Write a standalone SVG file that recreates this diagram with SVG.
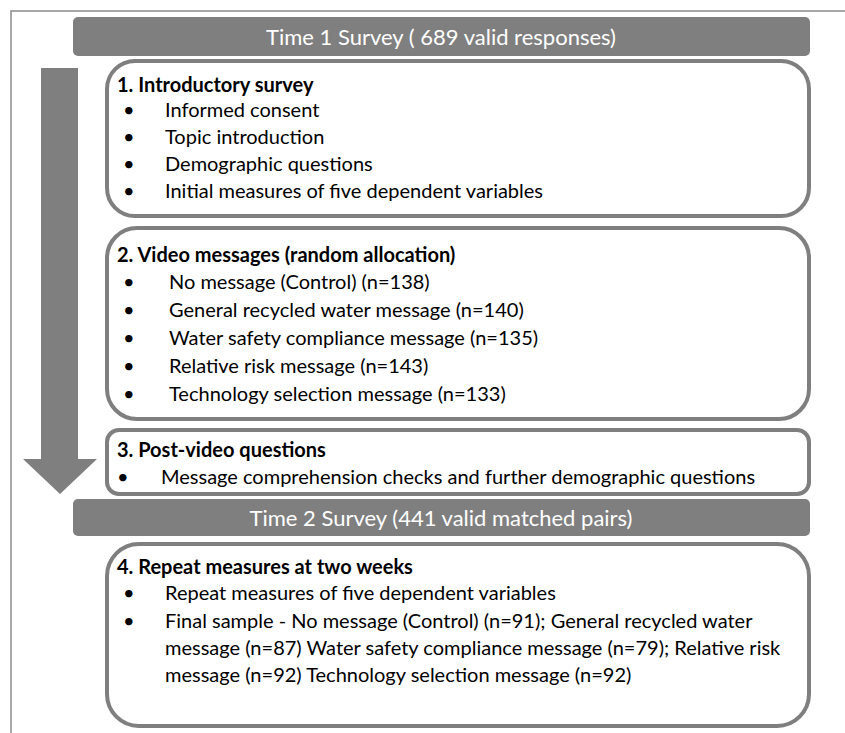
<svg xmlns="http://www.w3.org/2000/svg" width="845" height="733" viewBox="0 0 845 733">
<style>
.frame{stroke:#8a8a8a;stroke-width:1.5;fill:none}
.bar{fill:#7f7f7f}
.box{fill:#fff;stroke:#7f7f7f;stroke-width:4}
.hdr{font-family:Lato,"Liberation Sans",sans-serif;font-size:22px;fill:#fff;text-anchor:middle}
.ttl{font-family:Lato,"Liberation Sans",sans-serif;font-size:20px;font-weight:bold;fill:#000}
.txt{font-family:Lato,"Liberation Sans",sans-serif;font-size:20px;fill:#000}
</style>
<rect width="845" height="733" fill="#fff"/>
<path class="frame" d="M11,733 V11 H845"/>
<g id="flow-arrow">
<polygon class="bar" points="41,68 78,68 78,459 97,459 60,494 23,459 41,459"/>
</g>
<g id="time1-header">
<rect class="bar" x="73" y="17" width="737" height="39" rx="5"/>
<text class="hdr" x="441" y="45">Time 1 Survey ( 689 valid responses)</text>
</g>
<g id="box1">
<rect class="box" x="107" y="61" width="702" height="155" rx="28"/>
<text class="ttl" x="117" y="92">1. Introductory survey</text>
<g class="txt">
<text x="123" y="117">•</text><text x="165" y="117">Informed consent</text>
<text x="123" y="144">•</text><text x="165" y="144">Topic introduction</text>
<text x="123" y="171">•</text><text x="165" y="171">Demographic questions</text>
<text x="123" y="198">•</text><text x="165" y="198">Initial measures of five dependent variables</text>
</g>
</g>
<g id="box2">
<rect class="box" x="107" y="228" width="702" height="191" rx="30"/>
<text class="ttl" x="117" y="262">2. Video messages (random allocation)</text>
<g class="txt">
<text x="123" y="289">•</text><text x="169" y="289">No message (Control) (n=138)</text>
<text x="123" y="317">•</text><text x="169" y="317">General recycled water message (n=140)</text>
<text x="123" y="345">•</text><text x="169" y="345">Water safety compliance message (n=135)</text>
<text x="123" y="373">•</text><text x="169" y="373">Relative risk message (n=143)</text>
<text x="123" y="401">•</text><text x="169" y="401">Technology selection message (n=133)</text>
</g>
</g>
<g id="box3">
<rect class="box" x="107" y="430" width="702" height="64" rx="12"/>
<text class="ttl" x="117" y="457">3. Post-video questions</text>
<g class="txt">
<text x="117" y="484">•</text><text x="161" y="484">Message comprehension checks and further demographic questions</text>
</g>
</g>
<g id="time2-header">
<rect class="bar" x="73" y="499" width="737" height="37" rx="5"/>
<text class="hdr" x="441" y="526">Time 2 Survey (441 valid matched pairs)</text>
</g>
<g id="box4">
<rect class="box" x="107" y="544" width="702" height="182" rx="32"/>
<text class="ttl" x="117" y="574">4. Repeat measures at two weeks</text>
<g class="txt">
<text x="123" y="600">•</text><text x="165" y="600">Repeat measures of five dependent variables</text>
<text x="123" y="628">•</text><text x="165" y="628">Final sample - No message (Control) (n=91); General recycled water</text>
<text x="165" y="655">message (n=87) Water safety compliance message (n=79); Relative risk</text>
<text x="165" y="682">message (n=92) Technology selection message (n=92)</text>
</g>
</g>
</svg>
